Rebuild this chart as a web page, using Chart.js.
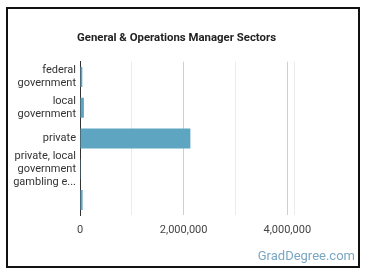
<!DOCTYPE html>
<html>
<head>
<meta charset="utf-8">
<script src="https://cdn.jsdelivr.net/npm/chart.js@4"></script>
<style>
  html, body { margin: 0; padding: 0; background: #fff; }
  #wrap { position: relative; width: 370px; height: 278px; }
  #frame {
    position: absolute; left: 6px; top: 7px; width: 350px; height: 257px;
    border: 2px solid #111;
  }
  #chart { position: absolute; left: 0; top: 0; }
  #title {
    position: absolute; left: 0; width: 353px; top: 30px; text-align: center;
    font: bold 11.4px Roboto, sans-serif; color: #222;
  }
  #brand {
    position: absolute; right: 15px; top: 248px;
    font: 13px Roboto, sans-serif; color: #7aa7c3;
  }
</style>
</head>
<body>
<div id="wrap">
  <div id="frame"></div>
  <canvas id="chart" width="370" height="278"></canvas>
  <div id="title">General &amp; Operations Manager Sectors</div>
  <div id="brand">GradDegree.com</div>
</div>
<script>
// data
const sectors = [
  ["federal", "government"],
  ["local", "government"],
  "private",
  ["private, local", "government", "gambling e..."],
  ""
];
const workers = [45000, 75000, 2130000, 15000, 50000];
const xGridValues = [0, 1000000, 2000000, 3000000, 4000000, 4130000];
const xTicksShown = [0, 2000000, 4000000];

const barColor = "#5ea5c2";

// thousands separator (toLocaleString is not reliable here)
const fmt = (v) => String(Math.round(v)).replace(/\B(?=(\d{3})+(?!\d))/g, ",");

new Chart(document.getElementById("chart"), {
  type: "bar",
  data: {
    labels: sectors,
    datasets: [{
      data: workers,
      backgroundColor: barColor,
      borderWidth: 0,
      barPercentage: 0.65,
      categoryPercentage: 1
    }]
  },
  options: {
    indexAxis: "y",
    responsive: false,
    animation: false,
    layout: { padding: { left: 0, right: 76, top: 61.6, bottom: 0 } },
    plugins: {
      legend: { display: false },
      tooltip: { enabled: false },
      title: { display: false }
    },
    scales: {
      x: {
        min: 0,
        max: 4130000,
        afterBuildTicks: (s) => { s.ticks = xGridValues.map(v => ({ value: v })); },
        afterFit: (s) => { s.height = 62.6; },
        border: { display: false },
        grid: {
          drawTicks: false,
          color: (ctx) => {
            const v = ctx.tick ? ctx.tick.value : null;
            if (v === 0) return "#333";
            return xTicksShown.includes(v) ? "#cfcfcf" : "#ececec";
          }
        },
        ticks: {
          autoSkip: false,
          padding: 8,
          color: "#444",
          font: { family: "Roboto", size: 11 },
          maxRotation: 0,
          callback: (v) => xTicksShown.includes(v) ? fmt(v) : ""
        }
      },
      y: {
        afterFit: (s) => { s.width = 80; },
        border: { display: true, color: "#333", width: 1 },
        grid: { display: false, drawTicks: false },
        ticks: {
          autoSkip: false,
          padding: 4,
          color: "#333",
          font: { family: "Roboto", size: 11, lineHeight: 1.2 }
        }
      }
    }
  }
});
</script>
</body>
</html>
